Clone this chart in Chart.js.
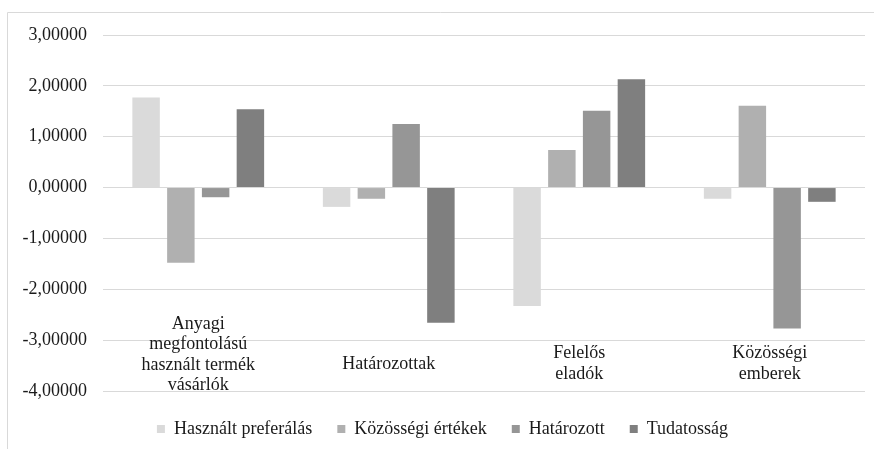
<!DOCTYPE html>
<html>
<head>
<meta charset="utf-8">
<script src="https://cdn.jsdelivr.net/npm/chart.js@4/dist/chart.umd.min.js"></script>
<style>
  html, body { margin: 0; padding: 0; background: #ffffff; }
  #wrap { width: 874px; height: 449px; position: relative; }
</style>
</head>
<body>
<div id="wrap"><canvas id="c" width="874" height="449"></canvas></div>
<script>
// Clusters (multi-line category labels)
const categories = [
  ["Anyagi", "megfontolású", "használt termék", "vásárlók"],
  "Határozottak",
  ["Felelős", "eladók"],
  ["Közösségi", "emberek"]
];

// Series values per cluster
const hasznaltPreferalas = [1.77, -0.38, -2.33, -0.22];
const kozossegiErtekek   = [-1.48, -0.22, 0.74, 1.61];
const hatarozott         = [-0.19, 1.25, 1.51, -2.77];
const tudatossag         = [1.54, -2.66, 2.13, -0.28];

const seriesNames = ["Használt preferálás", "Közösségi értékek", "Határozott", "Tudatosság"];

// Value axis range and tick step
const yMin = -4;
const yMax = 3;
const yStep = 1;

const FONT = '"Liberation Serif", "Times New Roman", serif';
const TEXT = '#1a1a1a';
const GRID = '#d9d9d9';

// Thin frame along the top and left edges of the canvas
const framePlugin = {
  id: 'frame',
  beforeDraw(chart) {
    const ctx = chart.ctx;
    ctx.save();
    ctx.strokeStyle = GRID;
    ctx.lineWidth = 1;
    ctx.beginPath();
    ctx.moveTo(7.5, chart.height);
    ctx.lineTo(7.5, 12.5);
    ctx.lineTo(chart.width, 12.5);
    ctx.stroke();
    ctx.restore();
  }
};

// Category names sit inside the lower part of the plot, centred under each cluster
const categoryLabelPlugin = {
  id: 'categoryLabels',
  afterDatasetsDraw(chart) {
    const ctx = chart.ctx;
    const xs = chart.scales.x;
    const lineH = 20.5;
    const centreY = 364;
    const maxBottom = chart.chartArea.bottom + 5;
    ctx.save();
    ctx.font = '18px ' + FONT;
    ctx.fillStyle = TEXT;
    ctx.textAlign = 'center';
    ctx.textBaseline = 'middle';
    chart.data.labels.forEach((lab, i) => {
      const lines = Array.isArray(lab) ? lab : [lab];
      const h = lines.length * lineH;
      const cy = Math.min(centreY, maxBottom - h / 2);
      const x = xs.getPixelForValue(i);
      lines.forEach((t, j) => {
        ctx.fillText(t, x, cy - h / 2 + lineH / 2 + j * lineH);
      });
    });
    ctx.restore();
  }
};

const mk = (label, data, color) => ({
  label, data,
  backgroundColor: color,
  borderWidth: 0,
  barPercentage: 0.79,
  categoryPercentage: 0.73
});

new Chart(document.getElementById('c'), {
  type: 'bar',
  data: {
    labels: categories,
    datasets: [
      mk(seriesNames[0], hasznaltPreferalas, '#dadada'),
      mk(seriesNames[1], kozossegiErtekek, '#b0b0b0'),
      mk(seriesNames[2], hatarozott, '#969696'),
      mk(seriesNames[3], tudatossag, '#7f7f7f')
    ]
  },
  options: {
    responsive: false,
    animation: false,
    layout: { padding: { left: 20, right: 9, top: 35, bottom: 1 } },
    plugins: {
      tooltip: { enabled: false },
      legend: {
        position: 'bottom',
        labels: {
          boxWidth: 8,
          boxHeight: 8,
          padding: 25,
          color: TEXT,
          font: { family: FONT, size: 18 }
        }
      }
    },
    scales: {
      x: {
        grid: { display: false, drawTicks: false },
        border: { display: false },
        ticks: { display: false },
        afterFit(scale) { scale.height = 4; }
      },
      y: {
        min: yMin,
        max: yMax,
        grid: { color: GRID, lineWidth: 1, drawTicks: false },
        border: { display: false },
        ticks: {
          stepSize: yStep,
          padding: 16,
          color: TEXT,
          font: { family: FONT, size: 18 },
          callback: (v) => v.toFixed(5).replace('.', ',')
        },
        afterFit(scale) { scale.width = 83; }
      }
    }
  },
  plugins: [framePlugin, categoryLabelPlugin]
});
</script>
</body>
</html>
